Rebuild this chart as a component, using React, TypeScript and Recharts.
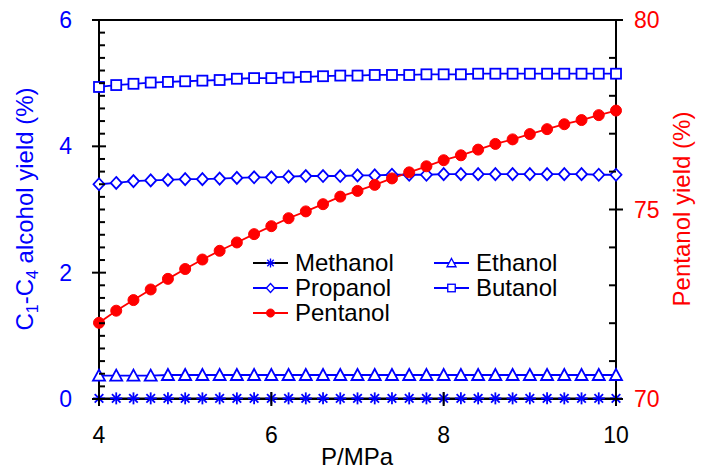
import React from "react";
import { Legend, Line, LineChart, ReferenceLine, XAxis, YAxis } from "recharts";

const PRESSURE = [
  4.0, 4.2, 4.4, 4.6, 4.8, 5.0, 5.2, 5.4, 5.6, 5.8, 6.0, 6.2, 6.4, 6.6, 6.8, 7.0,
  7.2, 7.4, 7.6, 7.8, 8.0, 8.2, 8.4, 8.6, 8.8, 9.0, 9.2, 9.4, 9.6, 9.8, 10.0,
];
const METHANOL = [
  0.01, 0.01, 0.01, 0.01, 0.01, 0.01, 0.01, 0.01, 0.01, 0.01, 0.01, 0.01, 0.01, 0.01, 0.01, 0.01,
  0.01, 0.01, 0.01, 0.01, 0.01, 0.01, 0.01, 0.01, 0.01, 0.01, 0.01, 0.01, 0.01, 0.01, 0.01,
];
const ETHANOL = [
  0.37, 0.37, 0.37, 0.37, 0.38, 0.38, 0.38, 0.38, 0.38, 0.38, 0.38, 0.38, 0.38, 0.38, 0.38, 0.38,
  0.38, 0.38, 0.38, 0.38, 0.38, 0.38, 0.38, 0.38, 0.38, 0.38, 0.38, 0.38, 0.38, 0.38, 0.38,
];
const PROPANOL = [
  3.4, 3.42, 3.45, 3.46, 3.47, 3.48, 3.48, 3.49, 3.5, 3.51, 3.51, 3.52, 3.53, 3.53, 3.53, 3.54,
  3.54, 3.55, 3.55, 3.55, 3.56, 3.56, 3.56, 3.56, 3.56, 3.56, 3.56, 3.56, 3.56, 3.55, 3.55,
];
const BUTANOL = [
  4.94, 4.97, 4.99, 5.01, 5.02, 5.03, 5.04, 5.05, 5.07, 5.08, 5.08, 5.09, 5.1, 5.11, 5.12, 5.12,
  5.13, 5.13, 5.13, 5.14, 5.14, 5.14, 5.15, 5.15, 5.15, 5.15, 5.15, 5.15, 5.15, 5.15, 5.15,
];
const PENTANOL = [
  72.01, 72.33, 72.61, 72.89, 73.17, 73.43, 73.68, 73.91, 74.13, 74.35, 74.56, 74.77, 74.95,
  75.14, 75.34, 75.49, 75.65, 75.82, 75.98, 76.14, 76.3, 76.43, 76.58, 76.73, 76.85, 76.99,
  77.12, 77.25, 77.36, 77.49, 77.61,
];

const X_TICKS = [4, 6, 8, 10];
const LEFT_TICKS = [
  0, 0.2, 0.4, 0.6, 0.8, 1, 1.2, 1.4, 1.6, 1.8, 2, 2.2, 2.4, 2.6, 2.8, 3, 3.2, 3.4, 3.6, 3.8, 4,
  4.2, 4.4, 4.6, 4.8, 5, 5.2, 5.4, 5.6, 5.8, 6,
];
const LEFT_LABELED = [0, 2, 4, 6];
const RIGHT_TICKS = [70, 71, 72, 73, 74, 75, 76, 77, 78, 79, 80];
const RIGHT_LABELED = [70, 75, 80];

const BLUE = "#0000ff";
const RED = "#ff0000";
const FONT = "'Liberation Sans', Arial, sans-serif";

const data = PRESSURE.map((p, i) => ({
  p,
  methanol: METHANOL[i],
  ethanol: ETHANOL[i],
  propanol: PROPANOL[i],
  butanol: BUTANOL[i],
  pentanol: PENTANOL[i],
}));

// marker shapes
function Star({ cx, cy }: { cx: number; cy: number }) {
  const r = 6;
  const d = 4.3;
  return (
    <g stroke={BLUE} strokeWidth={1.8}>
      <line x1={cx} y1={cy - r} x2={cx} y2={cy + r} />
      <line x1={cx - r} y1={cy} x2={cx + r} y2={cy} />
      <line x1={cx - d} y1={cy - d} x2={cx + d} y2={cy + d} />
      <line x1={cx - d} y1={cy + d} x2={cx + d} y2={cy - d} />
    </g>
  );
}
function Tri({ cx, cy }: { cx: number; cy: number }) {
  return (
    <path
      d={`M${cx},${cy - 6}L${cx + 6},${cy + 5}L${cx - 6},${cy + 5}Z`}
      fill="#fff"
      stroke={BLUE}
      strokeWidth={1.8}
    />
  );
}
function Diamond({ cx, cy }: { cx: number; cy: number }) {
  return (
    <path
      d={`M${cx},${cy - 6}L${cx + 5.5},${cy}L${cx},${cy + 6}L${cx - 5.5},${cy}Z`}
      fill="#fff"
      stroke={BLUE}
      strokeWidth={1.8}
    />
  );
}
function Square({ cx, cy }: { cx: number; cy: number }) {
  return <rect x={cx - 5} y={cy - 5} width={10} height={10} fill="#fff" stroke={BLUE} strokeWidth={1.8} />;
}
function Dot({ cx, cy }: { cx: number; cy: number }) {
  return <circle cx={cx} cy={cy} r={5.5} fill={RED} stroke={RED} />;
}

const mk = (Shape: any) => (props: any) =>
  <Shape key={`${props.index}`} cx={props.cx} cy={props.cy} />;

const SERIES = [
  { key: "methanol", name: "Methanol", line: "#000", Shape: Star, axis: "left" },
  { key: "ethanol", name: "Ethanol", line: BLUE, Shape: Tri, axis: "left" },
  { key: "propanol", name: "Propanol", line: BLUE, Shape: Diamond, axis: "left" },
  { key: "butanol", name: "Butanol", line: BLUE, Shape: Square, axis: "left" },
  { key: "pentanol", name: "Pentanol", line: RED, Shape: Dot, axis: "right" },
];

// legend slots: [column x, row y] inside the legend box
const LEGEND_SLOTS: Record<string, [number, number]> = {
  methanol: [13, 15],
  ethanol: [194, 15],
  propanol: [13, 40],
  butanol: [194, 40],
  pentanol: [13, 65],
};

function LegendBox() {
  return (
    <svg width={350} height={80} style={{ display: "block" }}>
      {SERIES.map((s) => {
        const [x, y] = LEGEND_SLOTS[s.key];
        const Shape = s.Shape;
        return (
          <g key={s.key}>
            <line x1={x} x2={x + 35} y1={y} y2={y} stroke={s.line} strokeWidth={1.8} />
            <g transform={`translate(${x + 17.5},${y}) scale(0.75)`}>
              <Shape cx={0} cy={0} />
            </g>
            <text x={x + 42} y={y + 8} fontSize={24} fontFamily={FONT} fill="#000">
              {s.name}
            </text>
          </g>
        );
      })}
    </svg>
  );
}

function XTick(props: any) {
  const { x, y, payload } = props;
  return (
    <g>
      <line x1={x} x2={x} y1={y - 7} y2={y + 7} stroke="#000" strokeWidth={2} />
      <text x={x} y={y + 44} textAnchor="middle" fontSize={23} fontFamily={FONT} fill="#000">
        {payload.value}
      </text>
    </g>
  );
}

function LeftTick(props: any) {
  const { x, y, payload } = props;
  const major = LEFT_LABELED.includes(payload.value);
  return (
    <g>
      {major ? (
        <line x1={x - 7} x2={x + 7} y1={y} y2={y} stroke="#000" strokeWidth={2} />
      ) : (
        <line x1={x} x2={x + 6} y1={y} y2={y} stroke="#000" strokeWidth={2} />
      )}
      {major && (
        <text x={x - 27} y={y + 8} textAnchor="end" fontSize={23} fontFamily={FONT} fill={BLUE}>
          {payload.value}
        </text>
      )}
    </g>
  );
}

function RightTick(props: any) {
  const { x, y, payload } = props;
  const major = RIGHT_LABELED.includes(payload.value);
  return (
    <g>
      {major ? (
        <line x1={x - 7} x2={x + 7} y1={y} y2={y} stroke="#000" strokeWidth={2} />
      ) : (
        <line x1={x - 7} x2={x} y1={y} y2={y} stroke="#000" strokeWidth={2} />
      )}
      {major && (
        <text x={x + 18} y={y + 8} textAnchor="start" fontSize={23} fontFamily={FONT} fill={RED}>
          {payload.value}
        </text>
      )}
    </g>
  );
}

const LeftLabel = () => (
  <text
    x={33}
    y={209}
    transform="rotate(-90, 33, 209)"
    textAnchor="middle"
    fontSize={24}
    fontFamily={FONT}
    fill={BLUE}
  >
    <tspan>C</tspan>
    <tspan fontSize={16} dy={5}>1</tspan>
    <tspan dy={-5}>-C</tspan>
    <tspan fontSize={16} dy={5}>4</tspan>
    <tspan dy={-5}> alcohol yield (%)</tspan>
  </text>
);

const RightLabel = () => (
  <text
    x={690}
    y={209}
    transform="rotate(-90, 690, 209)"
    textAnchor="middle"
    fontSize={24}
    fontFamily={FONT}
    fill={RED}
  >
    Pentanol yield (%)
  </text>
);

const BottomLabel = () => (
  <text x={357} y={465} textAnchor="middle" fontSize={24} fontFamily={FONT} fill="#000">
    P/MPa
  </text>
);

export default function App() {
  return (
    <div style={{ position: "absolute", left: 0, top: 0, width: 701, height: 472, background: "#fff" }}>
      <LineChart width={701} height={472} data={data} margin={{ top: 20, right: 0, left: 0, bottom: 0 }}>
        <XAxis
          dataKey="p"
          type="number"
          domain={[4, 10]}
          ticks={X_TICKS}
          interval={0}
          height={73}
          tickSize={0}
          tickMargin={0}
          tickLine={false}
          axisLine={{ stroke: "#000", strokeWidth: 2 }}
          tick={<XTick />}
          label={<BottomLabel />}
        />
        <YAxis
          yAxisId="left"
          orientation="left"
          type="number"
          domain={[0, 6]}
          ticks={LEFT_TICKS}
          interval={0}
          width={99}
          tickSize={0}
          tickMargin={0}
          tickLine={false}
          axisLine={{ stroke: "#000", strokeWidth: 2 }}
          tick={<LeftTick />}
          label={<LeftLabel />}
        />
        <YAxis
          yAxisId="right"
          orientation="right"
          type="number"
          domain={[70, 80]}
          ticks={RIGHT_TICKS}
          interval={0}
          width={85}
          tickSize={0}
          tickMargin={0}
          tickLine={false}
          axisLine={{ stroke: "#000", strokeWidth: 2 }}
          tick={<RightTick />}
          label={<RightLabel />}
        />
        <ReferenceLine yAxisId="left" y={6} stroke="#000" strokeWidth={2} />
        {SERIES.map((s) => (
          <Line
            key={s.key}
            yAxisId={s.axis}
            dataKey={s.key}
            name={s.name}
            type="linear"
            stroke={s.line}
            strokeWidth={1.8}
            dot={mk(s.Shape)}
            activeDot={false}
            isAnimationActive={false}
          />
        ))}
        <Legend
          layout="horizontal"
          verticalAlign="middle"
          align="center"
          content={() => <LegendBox />}
          wrapperStyle={{ left: 240, top: 248, width: 350, height: 80 }}
        />
      </LineChart>
    </div>
  );
}
